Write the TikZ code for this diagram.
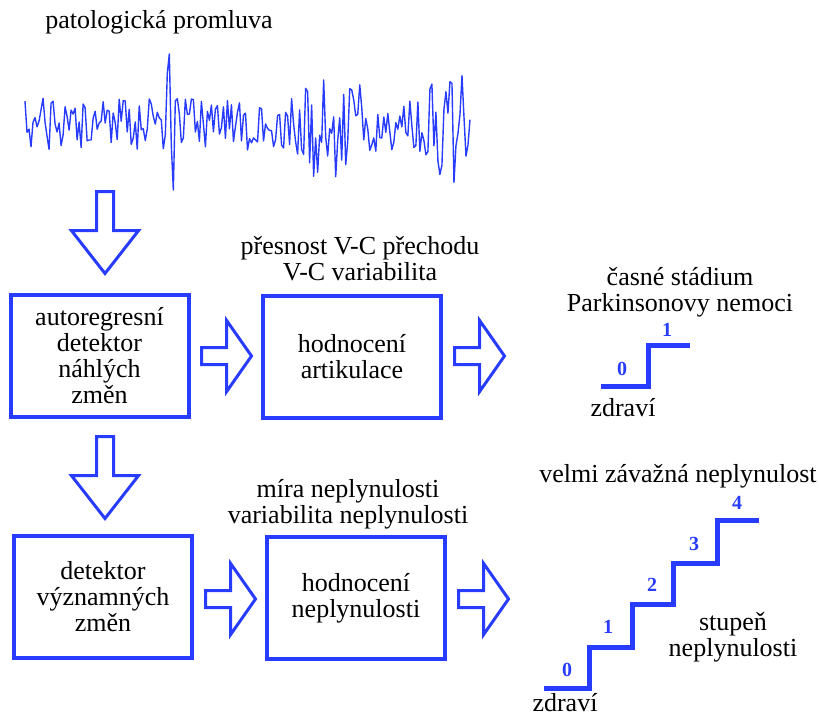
\documentclass[tikz,border=0pt]{standalone}
\usepackage{fontspec}
\setmainfont{Liberation Serif}
\usetikzlibrary{shapes.arrows, positioning, calc}
\definecolor{schblue}{RGB}{40,60,255}

\begin{document}
\begin{tikzpicture}[x=1pt,y=-1pt,
  blok/.style={rectangle,draw=schblue,line width=4pt,minimum width=178pt,minimum height=122pt,align=center,font=\fontsize{26}{26}\selectfont},
  popis/.style={align=center,font=\fontsize{26}{26}\selectfont,inner sep=0pt},
  sipka/.style={single arrow,draw=schblue,line width=3pt,inner xsep=0pt,inner ysep=7pt,single arrow head extend=27pt,single arrow tip angle=110,minimum height=50pt,anchor=tail},
  sipkadol/.style={sipka,rotate=-90,single arrow head extend=25pt,single arrow tip angle=76,minimum height=82pt},
  schod/.style={draw=schblue,line width=5pt},
  cislo/.style={text=schblue,font=\fontsize{20}{20}\selectfont\bfseries,inner sep=0pt},
  signal/.style={draw=schblue,line width=1.4pt,line join=round}
]
  \useasboundingbox (0,0) rectangle (819,718);
  \pgfmathsetseed{4711}

  % vstup
  \node[popis] (titul) at (159,22) {patologická promluva};
  \draw[signal] plot[domain=25:470,samples=223,variable=\t]
    (\t,{124+(26+55*exp(-min(((\t-172)/6)^2,20))+40*exp(-min(((\t-330)/30)^2,20))+35*exp(-min(((\t-450)/20)^2,20)))*rand});

  % bloky
  \node[blok] (ardet) at (99.5,356) {autoregresní\\detektor\\náhlých\\změn};
  \node[blok] (artik) at (352,356.5) {hodnocení\\artikulace};
  \node[blok] (vyzdet) at (103,597) {detektor\\významných\\změn};
  \node[blok] (nepl) at (356,598) {hodnocení\\neplynulosti};

  \node[popis] (artpar) at (360,259) {přesnost V-C přechodu\\V-C variabilita};
  \node[popis] (neplpar) at (348,504) {míra neplynulosti\\variabilita neplynulosti};

  % sipky
  \node[sipkadol] (s0) at (105,190) {};
  \node[sipkadol] (s1) at (105,435) {};
  \node[sipka] (s2) at (200,356) {};
  \node[sipka] (s3) at (453,356) {};
  \node[sipka] (s4) at (204,599) {};
  \node[sipka] (s5) at (457,599) {};

  % schody - artikulace
  \node[popis] (pd) at (680,292) {časné stádium\\Parkinsonovy nemoci};
  \draw[schod] (601,386) -| (648,345) -- (690,345);
  \node[cislo] (a0) at (622,369) {0};
  \node[cislo] (a1) at (667,330) {1};
  \node[popis] (zdr1) at (623,408) {zdraví};

  % schody - neplynulost
  \node[popis] (tezka) at (678,476) {velmi závažná neplynulost};
  \draw[schod] (544,688) -| (589,647) -| (632,604) -| (673,563) -| (717,520) -- (759,520);
  \node[cislo] (n0) at (567,670) {0};
  \node[cislo] (n1) at (608,627) {1};
  \node[cislo] (n2) at (652,585) {2};
  \node[cislo] (n3) at (694,544) {3};
  \node[cislo] (n4) at (737,503) {4};
  \node[popis] (stup) at (733,637) {stupeň\\neplynulosti};
  \node[popis] (zdr2) at (565,703) {zdraví};
\end{tikzpicture}
\end{document}
